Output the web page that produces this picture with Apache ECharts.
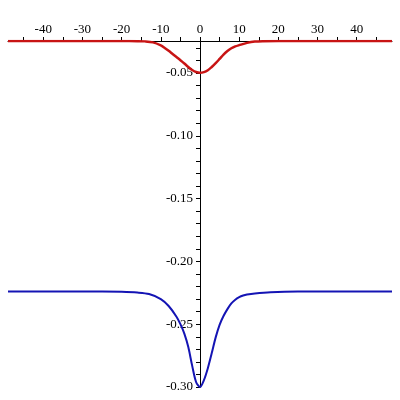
<!DOCTYPE html>
<html>
<head>
<meta charset="utf-8">
<script src="https://cdn.jsdelivr.net/npm/echarts@6/dist/echarts.min.js"></script>
<style>
  * { margin: 0; padding: 0; }
  body { background: #fff; }
  #chart { width: 400px; height: 400px; }
</style>
</head>
<body>
<div id="chart"></div>
<script>
// x positions of the sampled points
var redX = [-49, -20, -16, -14, -12, -10, -9, -8, -7, -6, -5, -4, -3, -2, -1, 0, 1, 2, 3, 4, 5, 6, 7, 8, 9, 10, 12, 14, 16, 20, 49]
var redY = [-0.0245, -0.0245, -0.0246, -0.0248, -0.0256, -0.0280, -0.0300, -0.0323, -0.0348, -0.0373, -0.0398, -0.0424,
  -0.0452, -0.0476, -0.0492, -0.0498, -0.0493, -0.0478, -0.0452, -0.0422, -0.0388, -0.0353, -0.0325, -0.0303, -0.0288,
  -0.0278, -0.0260, -0.0249, -0.0246, -0.0245, -0.0245]

var blueX = [-49, -25, -20, -16, -13, -10, -8, -6, -5, -4, -3, -2, -1, 0, 1, 2, 3, 4, 5, 6, 7, 8, 9, 10, 11, 12, 14, 18, 25, 49]
var blueY = [-0.2240, -0.2240, -0.2242, -0.2248, -0.2260, -0.2300, -0.2355, -0.2440, -0.2500, -0.2575, -0.2680, -0.2830,
  -0.2960, -0.3000, -0.2945, -0.2850, -0.2730, -0.2605, -0.2505, -0.2435, -0.2380, -0.2335, -0.2305, -0.2285, -0.2272,
  -0.2264, -0.2255, -0.2245, -0.2240, -0.2240]

// tick marks and labels
var xTicks = [-45, -40, -35, -30, -25, -20, -15, -10, -5, 0, 5, 10, 15, 20, 25, 30, 35, 40, 45]
var xLabels = [-40, -30, -20, -10, 0, 10, 20, 30, 40]
var yTicks = [-0.30, -0.29, -0.28, -0.27, -0.26, -0.25, -0.24, -0.23, -0.22, -0.21, -0.20, -0.19, -0.18, -0.17, -0.16,
  -0.15, -0.14, -0.13, -0.12, -0.11, -0.10, -0.09, -0.08, -0.07, -0.06, -0.05, -0.04, -0.03]
var yLabels = [-0.30, -0.25, -0.20, -0.15, -0.10, -0.05]

function pairs(xs, ys) {
  return xs.map(function (x, i) { return [x, ys[i]] })
}

var chart = echarts.init(document.getElementById('chart'))
chart.setOption({
  animation: false,
  grid: { left: 8, right: 8, top: 41, bottom: 13, containLabel: false, outerBoundsMode: 'none' },
  xAxis: {
    type: 'value',
    position: 'top',
    min: -49,
    max: 49,
    splitLine: { show: false },
    axisLine: { onZero: false, lineStyle: { color: '#000', width: 1 } },
    axisTick: { customValues: xTicks, length: 4, lineStyle: { color: '#000' } },
    axisLabel: {
      customValues: xLabels,
      margin: 5,
      color: '#000',
      fontFamily: 'Liberation Serif',
      fontSize: 13
    }
  },
  yAxis: {
    type: 'value',
    position: 'left',
    offset: -192, // moves the axis to x = 0
    min: -0.30,
    max: -0.0245,
    splitLine: { show: false },
    axisLine: { onZero: false, lineStyle: { color: '#000', width: 1 } },
    axisTick: { customValues: yTicks, length: 4, lineStyle: { color: '#000' } },
    axisLabel: {
      customValues: yLabels,
      margin: 7,
      color: '#000',
      fontFamily: 'Liberation Serif',
      fontSize: 13,
      formatter: function (v) { return v.toFixed(2) }
    }
  },
  series: [
    {
      type: 'line',
      data: pairs(redX, redY),
      smooth: 0.3,
      showSymbol: false,
      lineStyle: { color: '#c81414', width: 2.5 },
      z: 3
    },
    {
      type: 'line',
      data: pairs(blueX, blueY),
      smooth: 0.3,
      showSymbol: false,
      lineStyle: { color: '#1414b4', width: 2 },
      z: 3
    }
  ]
})
</script>
</body>
</html>
